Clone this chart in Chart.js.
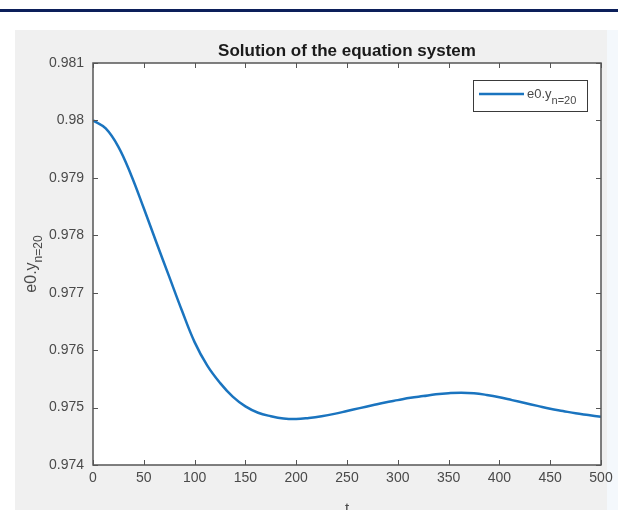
<!DOCTYPE html>
<html lang="en">
<head>
    <meta charset="utf-8">
    <title>Solution of the equation system</title>
    <script src="https://cdn.jsdelivr.net/npm/chart.js"></script>
    <style>
        html, body { margin: 0; padding: 0; background: #fff; }
        #wrap { width: 618px; height: 510px; }
    </style>
</head>
<body>
    <div id="wrap"><canvas id="solchart" width="618" height="510"></canvas></div>
    <script>
        // values
        const tValues = [0, 12.5, 25, 37.5, 50, 62.5, 75, 87.5, 100, 112.5, 125, 137.5, 150, 162.5, 175, 187.5, 200,
                         212.5, 225, 237.5, 250, 262.5, 275, 287.5, 300, 312.5, 325, 337.5, 350, 362.5, 375, 387.5, 400,
                         412.5, 425, 437.5, 450, 462.5, 475, 487.5, 500];
        const yValues = [0.98000, 0.97986, 0.97954, 0.97905, 0.97847, 0.97787, 0.97728, 0.97669, 0.97614, 0.97573,
                         0.97543, 0.97519, 0.97502, 0.97491, 0.97485, 0.97481, 0.97480, 0.97482, 0.97485, 0.97489,
                         0.97494, 0.97499, 0.97504, 0.97509, 0.97513, 0.97517, 0.97520, 0.97523, 0.97525, 0.97526,
                         0.97525, 0.97522, 0.97518, 0.97513, 0.97508, 0.97503, 0.97498, 0.97494, 0.97490, 0.97487, 0.97484];
        const xTicks = [0, 50, 100, 150, 200, 250, 300, 350, 400, 450, 500];
        const yTicks = [0.974, 0.975, 0.976, 0.977, 0.978, 0.979, 0.98, 0.981];

        const FONT = '"Liberation Sans", Arial, sans-serif';
        const lineColor = '#1a74bf';
        const axisColor = '#555555';
        const textColor = '#4a4a4a';

        // page decorations, frame, inner ticks, title, labels, legend
        const matlabLook = {
            id: 'matlabLook',
            beforeDraw(chart) {
                const ctx = chart.ctx;
                const a = chart.chartArea;
                ctx.save();
                ctx.fillStyle = '#ffffff';
                ctx.fillRect(0, 0, chart.width, chart.height);
                ctx.fillStyle = '#0c1f5a';
                ctx.fillRect(0, 9, chart.width, 3);
                ctx.fillStyle = '#f0f0f0';
                ctx.fillRect(15, 30, 592, 480);
                ctx.fillStyle = '#f4f8fc';
                ctx.fillRect(607, 30, 11, 480);
                ctx.fillStyle = '#ffffff';
                ctx.fillRect(a.left, a.top, a.right - a.left, a.bottom - a.top);
                ctx.restore();
            },
            afterDraw(chart) {
                const ctx = chart.ctx;
                const a = chart.chartArea;
                const xs = chart.scales.x;
                const ys = chart.scales.y;
                ctx.save();
                ctx.strokeStyle = axisColor;
                ctx.lineWidth = 1.5;
                ctx.strokeRect(a.left, a.top, a.right - a.left, a.bottom - a.top);
                ctx.lineWidth = 1;
                ctx.beginPath();
                xTicks.forEach(v => {
                    const px = Math.round(xs.getPixelForValue(v)) + 0.5;
                    ctx.moveTo(px, a.bottom); ctx.lineTo(px, a.bottom - 5);
                    ctx.moveTo(px, a.top); ctx.lineTo(px, a.top + 5);
                });
                yTicks.forEach(v => {
                    const py = Math.round(ys.getPixelForValue(v)) + 0.5;
                    ctx.moveTo(a.left, py); ctx.lineTo(a.left + 5, py);
                    ctx.moveTo(a.right, py); ctx.lineTo(a.right - 5, py);
                });
                ctx.stroke();

                // title
                ctx.fillStyle = '#1a1a1a';
                ctx.font = 'bold 17px ' + FONT;
                ctx.textAlign = 'center';
                ctx.textBaseline = 'alphabetic';
                ctx.fillText('Solution of the equation system', (a.left + a.right) / 2, 56);

                // x axis label
                ctx.fillStyle = textColor;
                ctx.font = '15px ' + FONT;
                ctx.fillText('t', (a.left + a.right) / 2, 513);

                // y axis label with subscript
                ctx.save();
                ctx.translate(36, (a.top + a.bottom) / 2);
                ctx.rotate(-Math.PI / 2);
                const main = 'e0.y';
                ctx.font = '16px ' + FONT;
                const w1 = ctx.measureText(main).width;
                ctx.font = '12px ' + FONT;
                const w2 = ctx.measureText('n=20').width;
                const sx = -(w1 + w2) / 2;
                ctx.textAlign = 'left';
                ctx.font = '16px ' + FONT;
                ctx.fillText(main, sx, 0);
                ctx.font = '12px ' + FONT;
                ctx.fillText('n=20', sx + w1, 6);
                ctx.restore();

                // legend
                const bx = 473, by = 80, bw = 114, bh = 31;
                ctx.fillStyle = '#ffffff';
                ctx.fillRect(bx, by, bw, bh);
                ctx.strokeStyle = '#3a3a3a';
                ctx.lineWidth = 1;
                ctx.strokeRect(bx + 0.5, by + 0.5, bw, bh);
                ctx.strokeStyle = lineColor;
                ctx.lineWidth = 2.5;
                ctx.beginPath();
                ctx.moveTo(bx + 6, by + 14);
                ctx.lineTo(bx + 51, by + 14);
                ctx.stroke();
                ctx.fillStyle = textColor;
                ctx.textAlign = 'left';
                ctx.font = '13px ' + FONT;
                ctx.fillText('e0.y', bx + 54, by + 18);
                const lw = ctx.measureText('e0.y').width;
                ctx.font = '11px ' + FONT;
                ctx.fillText('n=20', bx + 54 + lw, by + 24);
                ctx.restore();
            }
        };

        const data = {
            datasets: [{
                label: 'e0.y n=20',
                data: tValues.map((t, i) => ({ x: t, y: yValues[i] })),
                borderColor: lineColor,
                borderWidth: 2.5,
                pointRadius: 0,
                tension: 0.4,
                fill: false
            }]
        };

        const config = {
            type: 'line',
            data: data,
            options: {
                responsive: false,
                animation: false,
                layout: { padding: { left: 0, right: 17, top: 63, bottom: 0 } },
                plugins: {
                    legend: { display: false },
                    title: { display: false },
                    tooltip: { enabled: false }
                },
                scales: {
                    x: {
                        type: 'linear',
                        min: 0,
                        max: 500,
                        afterBuildTicks: s => { s.ticks = xTicks.map(v => ({ value: v })); },
                        afterFit: s => { s.height = 45; },
                        grid: { display: false, drawTicks: false },
                        border: { display: false },
                        ticks: {
                            color: textColor,
                            padding: 5,
                            maxRotation: 0,
                            font: { family: FONT, size: 14 },
                            callback: v => String(v)
                        }
                    },
                    y: {
                        type: 'linear',
                        min: 0.974,
                        max: 0.981,
                        afterBuildTicks: s => { s.ticks = yTicks.map(v => ({ value: v })); },
                        afterFit: s => { s.width = 93; },
                        grid: { display: false, drawTicks: false },
                        border: { display: false },
                        ticks: {
                            color: textColor,
                            padding: 9,
                            font: { family: FONT, size: 14 },
                            callback: v => String(parseFloat(Number(v).toFixed(3)))
                        }
                    }
                }
            },
            plugins: [matlabLook]
        };

        const myChart = new Chart(document.getElementById('solchart'), config);
    </script>
</body>
</html>
